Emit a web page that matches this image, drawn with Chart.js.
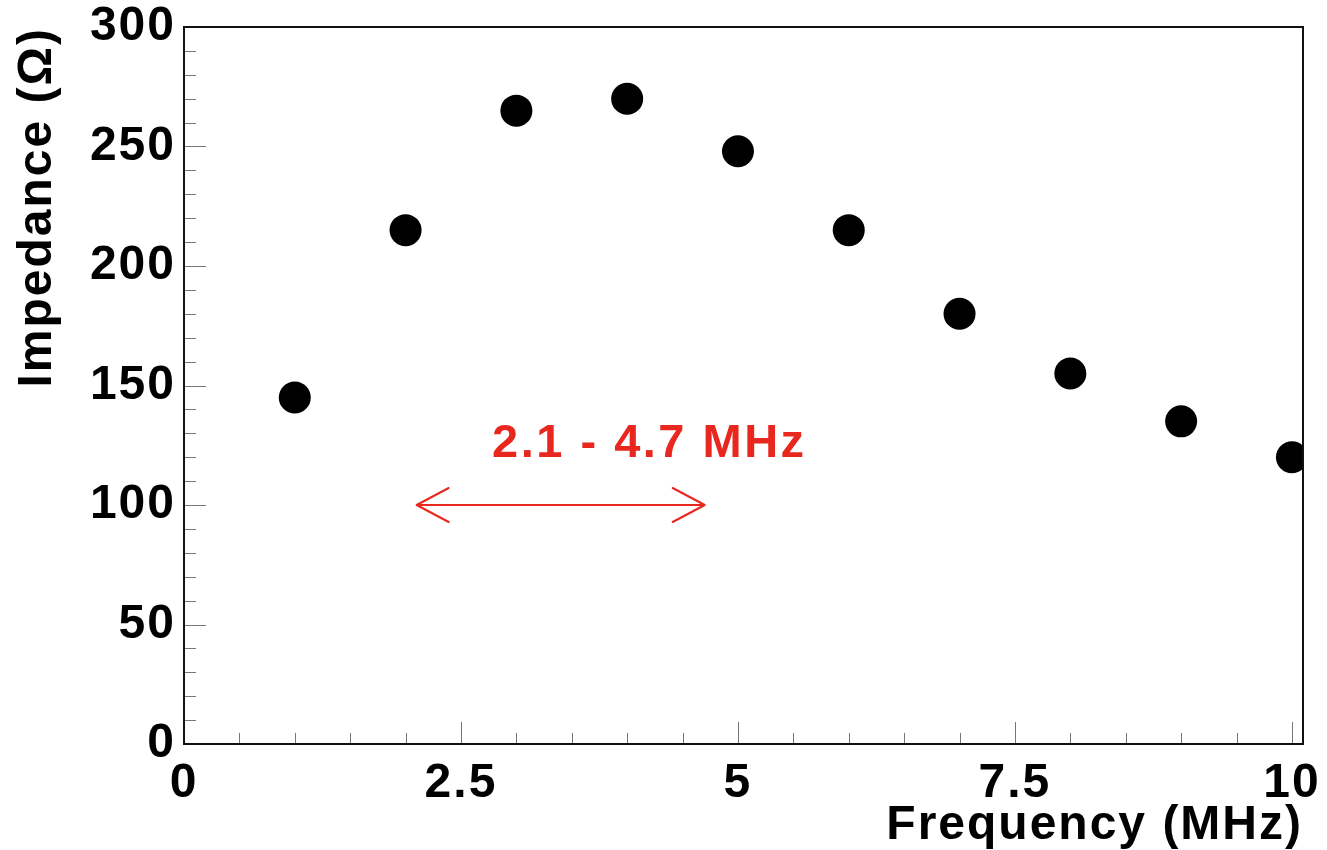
<!DOCTYPE html>
<html>
<head>
<meta charset="utf-8">
<script src="https://cdn.jsdelivr.net/npm/chart.js@4.4.0/dist/chart.umd.min.js"></script>
<style>
  html, body { margin: 0; padding: 0; background: #fff; }
  #wrap { width: 1327px; height: 850px; position: relative; }
</style>
</head>
<body>
<div id="wrap"><canvas id="impedance"></canvas></div>
<script>
// impedance measured at each drive frequency
const freqMHz = [1, 2, 3, 4, 5, 6, 7, 8, 9, 10];
const impedanceOhm = [145, 215, 265, 270, 248, 215, 180, 155, 135, 120];

const xTickValues = [0, 2.5, 5, 7.5, 10];
const yTickValues = [0, 50, 100, 150, 200, 250, 300];

// usable band, marked with a double arrow
const bandRange = [2.1, 4.7];
const bandLevel = 100;
const bandLabel = '2.1 - 4.7 MHz';
const bandLabelPos = [4.2, 120];

const FONT = "'Liberation Sans', Arial, Helvetica, sans-serif";
const RED = '#e8281e';
const SPACING = '2px';

// wide Helvetica look: a bit of tracking on every text drawn on the canvas
// (set again before layout since resizing the canvas resets the context)
const tracking = {
  id: 'tracking',
  beforeLayout(chart) { chart.ctx.letterSpacing = SPACING; },
  beforeDraw(chart) { chart.ctx.letterSpacing = SPACING; }
};

// ROOT style frame: box around the pad, ticks pointing inwards
const rootFrame = {
  id: 'rootFrame',
  afterDatasetsDraw(chart) {
    const { ctx, chartArea: a, scales: { x, y } } = chart;
    ctx.save();
    ctx.strokeStyle = '#777';
    ctx.lineWidth = 1;
    for (let v = x.min; v <= x.max + 1e-9; v += 0.5) {
      const len = xTickValues.includes(v) ? 22 : 11;
      const px = Math.round(x.getPixelForValue(v)) + 0.5;
      ctx.beginPath();
      ctx.moveTo(px, a.bottom);
      ctx.lineTo(px, a.bottom - len);
      ctx.stroke();
    }
    for (let v = y.min; v <= y.max + 1e-9; v += 10) {
      const len = yTickValues.includes(v) ? 22 : 12;
      const py = Math.round(y.getPixelForValue(v)) + 0.5;
      ctx.beginPath();
      ctx.moveTo(a.left, py);
      ctx.lineTo(a.left + len, py);
      ctx.stroke();
    }
    ctx.strokeStyle = '#111';
    ctx.lineWidth = 2;
    ctx.strokeRect(a.left, a.top, a.right - a.left, a.bottom - a.top);
    ctx.restore();
  }
};

const bandArrow = {
  id: 'bandArrow',
  afterDatasetsDraw(chart) {
    const { ctx, scales: { x, y } } = chart;
    const x0 = x.getPixelForValue(bandRange[0]);
    const x1 = x.getPixelForValue(bandRange[1]);
    const yy = y.getPixelForValue(bandLevel);
    const hx = 32, hy = 17;
    ctx.save();
    ctx.strokeStyle = RED;
    ctx.lineWidth = 2;
    ctx.lineCap = 'round';
    ctx.lineJoin = 'round';
    ctx.beginPath();
    ctx.moveTo(x0, yy);
    ctx.lineTo(x1, yy);
    ctx.moveTo(x0 + hx, yy - hy);
    ctx.lineTo(x0, yy);
    ctx.lineTo(x0 + hx, yy + hy);
    ctx.moveTo(x1 - hx, yy - hy);
    ctx.lineTo(x1, yy);
    ctx.lineTo(x1 - hx, yy + hy);
    ctx.stroke();
    ctx.fillStyle = RED;
    ctx.font = 'bold 47px ' + FONT;
    ctx.letterSpacing = '2.5px';
    ctx.textAlign = 'center';
    ctx.textBaseline = 'alphabetic';
    ctx.fillText(bandLabel, x.getPixelForValue(bandLabelPos[0]), y.getPixelForValue(bandLabelPos[1]));
    ctx.restore();
  }
};

const tickFont = { family: FONT, size: 48, weight: 'bold', lineHeight: 1 };

new Chart(document.getElementById('impedance'), {
  type: 'scatter',
  data: {
    datasets: [{
      data: freqMHz.map((f, i) => ({ x: f, y: impedanceOhm[i] })),
      backgroundColor: '#000',
      borderWidth: 0,
      pointRadius: 16,
      pointHoverRadius: 16,
      clip: 0
    }]
  },
  options: {
    responsive: true,
    maintainAspectRatio: false,
    animation: false,
    events: [],
    layout: { padding: { top: 27, right: 24, left: 0, bottom: 0 } },
    plugins: {
      legend: { display: false },
      tooltip: { enabled: false }
    },
    scales: {
      x: {
        type: 'linear',
        min: 0,
        max: 10.1,
        grid: { display: false },
        border: { display: false },
        afterBuildTicks: s => { s.ticks = xTickValues.map(v => ({ value: v })); },
        afterFit: s => { s.height = 106; s.paddingLeft = 0; s.paddingRight = 0; },
        ticks: {
          color: '#000',
          font: tickFont,
          padding: 8,
          maxRotation: 0,
          autoSkip: false,
          callback: v => String(v)
        },
        title: {
          display: true,
          text: 'Frequency (MHz)',
          align: 'end',
          color: '#000',
          font: tickFont,
          padding: 0
        }
      },
      y: {
        type: 'linear',
        min: 0,
        max: 300,
        grid: { display: false },
        border: { display: false },
        afterBuildTicks: s => { s.ticks = yTickValues.map(v => ({ value: v })); },
        afterFit: s => { s.width = 184; s.paddingTop = 0; s.paddingBottom = 0; },
        ticks: {
          color: '#000',
          font: tickFont,
          padding: 0,
          autoSkip: false,
          callback: v => String(v)
        },
        title: {
          display: true,
          text: 'Impedance (Ω)',
          align: 'end',
          color: '#000',
          font: tickFont,
          padding: { top: 14 }
        }
      }
    }
  },
  plugins: [tracking, rootFrame, bandArrow]
});
</script>
</body>
</html>
